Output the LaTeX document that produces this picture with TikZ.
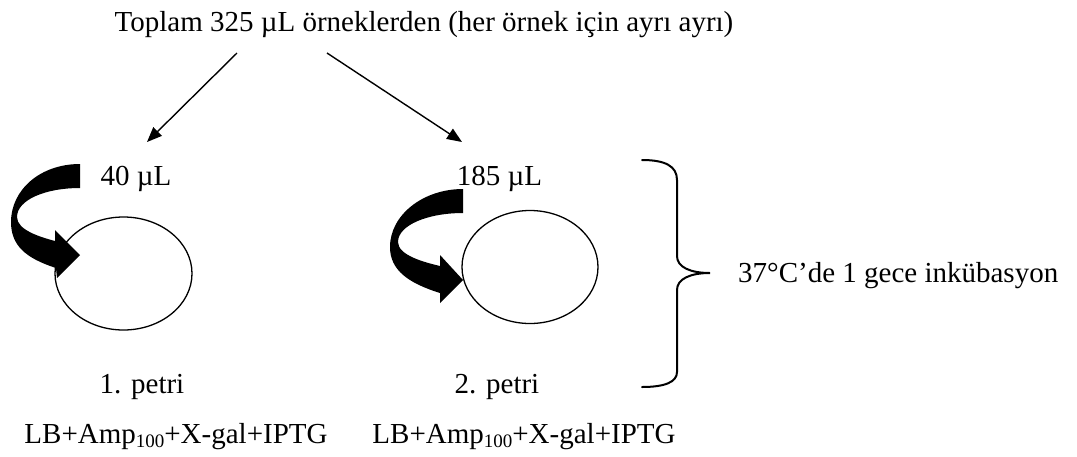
\documentclass[tikz,border=0pt]{standalone}
\usepackage{fontspec}
\setmainfont{Liberation Serif}
\usetikzlibrary{arrows.meta}
\newcommand{\subhundred}{\raisebox{-0.16em}{\fontsize{19}{20}\selectfont 100}}
\begin{document}
\begin{tikzpicture}[x=1pt,y=-1pt,
  lbl/.style={inner sep=0pt, anchor=base, font=\fontsize{29}{34}\selectfont},
  thinarrow/.style={line width=1.4pt, -{Triangle[length=15pt,width=12pt]}},
  dish/.style={draw, line width=1.3pt},
  bendarrow/.style={fill=black},
  bracestyle/.style={line width=2pt, line cap=round}]
\useasboundingbox (0,0) rectangle (1077,456);

% texts
\node[lbl] (top) at (424,31) {Toplam 325 µL örneklerden (her örnek için ayrı ayrı)};
\node[lbl] (v1) at (136,185) {40 µL};
\node[lbl] (v2) at (499.5,185) {185 µL};
\node[lbl] (p1) at (142,393) {1. petri};
\node[lbl] (p2) at (497,393) {2. petri};
\node[lbl] (m1) at (176,443) {LB+Amp\subhundred+X-gal+IPTG};
\node[lbl] (m2) at (524,443) {LB+Amp\subhundred+X-gal+IPTG};
\node[lbl, anchor=base west] (inc) at (738,282) {37°C’de 1 gece inkübasyon};

% petri dishes
\draw[dish] (123.5,273.5) ellipse [x radius=68.5, y radius=56.5];
\draw[dish] (530,267) ellipse [x radius=68, y radius=56.5];

% straight arrows
\coordinate (a1s) at (237,53);
\coordinate (a1e) at (147,142);
\coordinate (a2s) at (327,53);
\coordinate (a2e) at (462,142);
\draw[thinarrow] (a1s) -- (a1e);
\draw[thinarrow] (a2s) -- (a2e);

% thick curved arrows
\fill[bendarrow] (80,164) -- (80,188) .. controls (45,188) and (17,200) .. (17,217)
  .. controls (17,230) and (40,237) .. (55,241) -- (55,230) -- (80,255) -- (57,278) -- (56,268)
  .. controls (25,258) and (11,245) .. (11,222) .. controls (11,190) and (40,164) .. (80,164) -- cycle;
\begin{scope}[shift={(383,25)}]
\fill[bendarrow] (80,164) -- (80,188) .. controls (45,188) and (15,200) .. (15,217)
  .. controls (15,230) and (40,237) .. (57,241) -- (57,230) -- (80,255) -- (57,278) -- (57,268)
  .. controls (25,258) and (7,245) .. (7,222) .. controls (7,190) and (40,164) .. (80,164) -- cycle;
\end{scope}

% brace
\draw[bracestyle] (642,160) .. controls (665,160) and (677,166) .. (677,180) -- (677,256)
  .. controls (677,267) and (690,273) .. (710,273)
  .. controls (690,273) and (677,279) .. (677,290) -- (677,372)
  .. controls (677,382) and (665,387) .. (642,387);
\end{tikzpicture}
\end{document}
